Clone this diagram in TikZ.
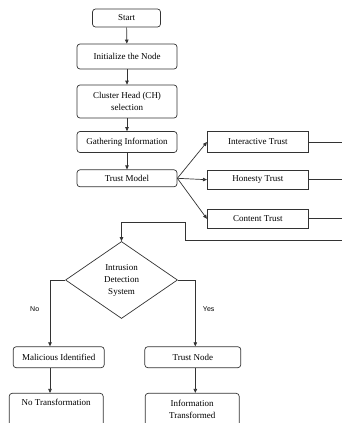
\documentclass[tikz,border=0pt]{standalone}
\usepackage{fontspec}
\setmainfont{Liberation Serif}
\newfontfamily\lblfont{Liberation Sans}
\usetikzlibrary{arrows.meta,shapes.geometric,calc}
\begin{document}
\begin{tikzpicture}[x=1pt,y=1pt,
  every node/.style={font=\fontsize{9}{12}\selectfont},
  ln/.style={draw=black!80,line width=0.7pt},
  arr/.style={ln,-{Triangle[length=4pt,width=3.5pt]}},
  rbox/.style={ln,rounded corners=3pt,inner sep=0pt,align=center},
  sbox/.style={ln,inner sep=0pt,align=center},
  lbl/.style={font=\lblfont\fontsize{7}{8}\selectfont}]
\useasboundingbox (0,0) rectangle (342,-423);
\node[rbox,minimum width=68,minimum height=18] (start) at (126.5,-18) {Start};
\node[rbox,minimum width=100,minimum height=25] (init) at (127,-56.5) {Initialize the Node};
\node[rbox,minimum width=100,minimum height=33] (ch) at (127,-101.5) {Cluster Head (CH)\\selection};
\node[rbox,minimum width=100,minimum height=21] (gath) at (127,-142) {Gathering Information};
\node[rbox,minimum width=100,minimum height=17] (tm) at (127,-178.3) {Trust Model};
\node[sbox,minimum width=101,minimum height=21] (it) at (257.8,-142) {Interactive Trust};
\node[sbox,minimum width=101,minimum height=19] (ht) at (257.8,-179.7) {Honesty Trust};
\node[sbox,minimum width=101,minimum height=19] (ct) at (257.8,-218.8) {Content Trust};
\coordinate (edge) at (346,0);
\node[ln,diamond,inner sep=0pt,minimum width=112,minimum height=77,align=center] (ids) at (121.5,-280) {Intrusion\\Detection\\System};
\node[rbox,minimum width=91,minimum height=21] (mal) at (58.7,-357.2) {Malicious Identified};
\node[rbox,minimum width=96,minimum height=21] (tn) at (192.8,-357.2) {Trust Node};
\node[rbox,minimum width=94,minimum height=33] (nt) at (56.2,-409.8) {No Transformation\\\strut};
\node[rbox,minimum width=94,minimum height=33] (inf) at (192.2,-409.8) {Information\\Transformed};
\node[lbl] (no) at (34.7,-309) {No};
\node[lbl] (yes) at (208.7,-309) {Yes};
\draw[arr] (start) -- (init);
\draw[arr] (init) -- (ch);
\draw[arr] (ch) -- (gath);
\draw[arr] (gath) -- (tm);
\draw[arr] (tm.east) -- (it.west);
\draw[arr] (tm.east) -- (ht.west);
\draw[arr] (tm.east) -- (ct.west);
\draw[ln] (it.east) -- (it.east -| edge);
\draw[ln] (ht.east) -- (ht.east -| edge);
\draw[ln] (ct.east) -- (ct.east -| edge);
\draw[arr] ($(edge)+(0,-240)$) -- (185,-240) -- (185,-222.7) -| (ids.north);
\draw[arr] (ids.west) -| ($(mal.north)+(-8.7,0)$);
\draw[arr] (ids.east) -| ($(tn.north)+(2.5,0)$);
\draw[arr] ($(mal.south)+(-8.7,0)$) -- ($(nt.north)+(-6.2,0)$);
\draw[arr] ($(tn.south)+(2.5,0)$) -- ($(inf.north)+(3.1,0)$);
\end{tikzpicture}
\end{document}
